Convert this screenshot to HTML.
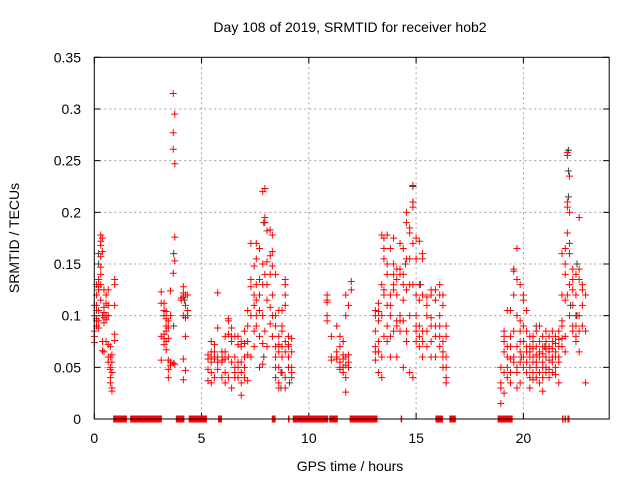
<!DOCTYPE html>
<html><head><meta charset="utf-8"><style>
html,body{margin:0;padding:0;background:#fff;}
svg{display:block;font-family:"Liberation Sans",sans-serif;}
</style></head><body>
<svg id="chart" width="640" height="480" viewBox="0 0 640 480">
<rect width="640" height="480" fill="#fff"/>
<text x="350" y="32" font-size="14" text-anchor="middle" fill="#000">Day 108 of 2019, SRMTID for receiver hob2</text>
<text transform="translate(19,238) rotate(-90)" font-size="14" text-anchor="middle" fill="#000">SRMTID / TECUs</text>
<text x="350" y="471" font-size="14" text-anchor="middle" fill="#000">GPS time / hours</text>
<g id="grid"></g>
<g id="ticks"></g>
<g id="marks"></g>
<rect x="94.3" y="57.3" width="514.9" height="361.7" fill="none" stroke="#000" stroke-width="1"/>
</svg>
<script>
const xTicks = [0, 5, 10, 15, 20];
const yTicks = [0, 0.05, 0.1, 0.15, 0.2, 0.25, 0.3, 0.35];
const yTickLabels = ["0", "0.05", "0.1", "0.15", "0.2", "0.25", "0.3", "0.35"];
const xDomain = [0, 24];
const yDomain = [0, 0.35];
// data gaps shown along y=0 (start hour, end hour)
const gaps = [[0.88,1.52],[1.67,3.15],[3.8,4.2],[4.4,5.25],[5.77,5.95],[8.27,8.45],[9.03,9.07],[9.25,10.9],[10.95,11.35],[11.9,13.2],[14.28,14.32],[15.9,16.25],[16.55,16.85],[18.8,19.5],[21.8,21.85],[21.92,21.97],[22.05,22.15]];
// columns of samples: [hour, [values]]
const pass1 = [[0.0,[0.085,0.08,0.074,0.11,0.1]],[0.1,[0.13,0.12,0.11,0.097,0.09]],[0.2,[0.135,0.128,0.125,0.105,0.095,0.088]],[0.3,[0.178,0.172,0.168,0.157,0.147,0.14,0.13,0.115]],[0.38,[0.175,0.162,0.1,0.075,0.066]],[0.45,[0.125,0.108,0.103,0.098,0.093,0.065]],[0.55,[0.12,0.112,0.1,0.096,0.075]],[0.65,[0.125,0.11,0.1,0.072,0.06,0.055]],[0.75,[0.07,0.06,0.05,0.048,0.04,0.035]],[0.82,[0.062,0.055,0.045,0.03,0.027]],[0.95,[0.135,0.13,0.11,0.082,0.076]]];
const pass2 = [[3.12,[0.123,0.112,0.08,0.057]],[3.25,[0.112,0.105,0.1,0.082,0.078,0.072]],[3.35,[0.104,0.097,0.09,0.085,0.075,0.067]],[3.45,[0.095,0.088,0.078,0.057,0.048,0.04]],[3.55,[0.124,0.1,0.055,0.052]],[3.68,[0.315,0.277,0.261,0.141,0.054]],[3.75,[0.295,0.247,0.176,0.153,0.053]],[4.05,[0.117,0.115]],[4.15,[0.128,0.122,0.118,0.1,0.058,0.038]],[4.25,[0.12,0.11,0.098,0.08,0.047]],[4.35,[0.12,0.105,0.1]]];
const pass3 = [[5.3,[0.062,0.058,0.048,0.037]],[5.45,[0.075,0.065,0.06,0.055,0.045,0.035]],[5.6,[0.072,0.065,0.06,0.058,0.04]],[5.75,[0.122,0.088,0.06,0.055,0.048]],[5.95,[0.065,0.06,0.057,0.055,0.04]],[6.1,[0.08,0.065,0.058,0.045,0.035]],[6.25,[0.097,0.095,0.082,0.06,0.04]],[6.4,[0.088,0.08,0.075,0.055,0.03]],[6.55,[0.08,0.06,0.05,0.045,0.04]],[6.7,[0.08,0.072,0.055,0.05,0.04]],[6.85,[0.075,0.07,0.055,0.045,0.035,0.023]],[7.0,[0.085,0.073,0.06,0.05,0.04]],[7.15,[0.105,0.09,0.075,0.062,0.037]],[7.3,[0.17,0.135,0.128,0.1,0.06]],[7.45,[0.148,0.12,0.11,0.085,0.07]],[7.55,[0.17,0.155,0.13,0.115,0.1,0.09]],[7.7,[0.165,0.135,0.12,0.105,0.08,0.05]],[7.85,[0.22,0.15,0.13,0.1,0.073,0.053]],[7.95,[0.223,0.195,0.19,0.14,0.085]],[8.05,[0.182,0.152,0.13,0.115,0.07]],[8.2,[0.183,0.158,0.14,0.108,0.092]],[8.3,[0.178,0.162,0.148,0.12,0.1,0.08]],[8.45,[0.14,0.1,0.09,0.07,0.06,0.05,0.04]],[8.6,[0.105,0.08,0.072,0.065,0.05,0.035,0.03]],[8.75,[0.105,0.09,0.085,0.07,0.06,0.045]],[8.9,[0.135,0.13,0.12,0.11,0.075,0.065,0.04,0.03]],[9.05,[0.08,0.072,0.07,0.06,0.05]],[9.2,[0.078,0.065,0.05,0.045,0.04]]];
const pass4 = [[10.85,[0.12,0.115,0.113,0.1,0.095]],[11.05,[0.08,0.06,0.057]],[11.3,[0.09,0.065,0.06,0.058]],[11.45,[0.08,0.07,0.055,0.05,0.048]],[11.6,[0.075,0.062,0.058,0.05,0.045]],[11.72,[0.12,0.1,0.06,0.052,0.04,0.026]],[11.85,[0.11,0.062,0.055,0.05]],[11.98,[0.133,0.125]]];
const pass5 = [[13.1,[0.105,0.1,0.085,0.07,0.065,0.057]],[13.25,[0.112,0.104,0.095,0.075,0.065,0.045]],[13.4,[0.178,0.13,0.1,0.06,0.04]],[13.5,[0.175,0.165,0.155,0.125,0.12,0.08]],[13.65,[0.178,0.15,0.14,0.11,0.09,0.075]],[13.8,[0.165,0.12,0.11,0.1,0.08,0.06]],[13.95,[0.175,0.15,0.14,0.13,0.125,0.085]],[14.1,[0.145,0.135,0.12,0.095,0.09,0.06]],[14.25,[0.17,0.145,0.14,0.1,0.095,0.085]],[14.4,[0.165,0.14,0.13,0.115,0.095,0.05]],[14.55,[0.2,0.19,0.155,0.125,0.085,0.075]],[14.7,[0.185,0.18,0.155,0.13,0.1,0.045]],[14.85,[0.226,0.21,0.205,0.17,0.13,0.04]],[15.0,[0.175,0.155,0.12,0.1,0.09,0.085,0.075]],[15.15,[0.172,0.13,0.115,0.09,0.08,0.07]],[15.3,[0.16,0.155,0.12,0.085,0.075,0.06]],[15.5,[0.118,0.11,0.1,0.085,0.07]],[15.7,[0.125,0.12,0.098,0.09,0.075,0.06]],[15.9,[0.125,0.115,0.09,0.08,0.06]],[16.1,[0.13,0.12,0.1,0.09,0.08,0.07]],[16.25,[0.12,0.11,0.075,0.065,0.06,0.05]],[16.4,[0.09,0.08,0.06,0.05,0.04,0.035]]];
const pass6 = [[18.95,[0.05,0.035,0.03,0.015]],[19.1,[0.085,0.08,0.075,0.065,0.045,0.025]],[19.25,[0.105,0.07,0.06,0.05,0.04]],[19.4,[0.105,0.08,0.07,0.058,0.045,0.035]],[19.55,[0.145,0.143,0.12,0.085,0.06,0.055]],[19.7,[0.165,0.135,0.1,0.07,0.05,0.045,0.03]],[19.85,[0.13,0.095,0.085,0.075,0.065,0.055,0.035]],[20.0,[0.12,0.115,0.09,0.075,0.06,0.05]],[20.15,[0.105,0.085,0.07,0.065,0.055,0.045]],[20.3,[0.08,0.07,0.065,0.06,0.05,0.04,0.03]],[20.45,[0.08,0.075,0.068,0.06,0.055,0.045,0.038]],[20.6,[0.085,0.07,0.062,0.055,0.05,0.04]],[20.75,[0.09,0.075,0.065,0.06,0.045,0.035]],[20.9,[0.08,0.07,0.063,0.055,0.05,0.04,0.027]],[21.05,[0.085,0.075,0.068,0.06,0.05,0.045]],[21.2,[0.08,0.07,0.065,0.057,0.048,0.04]],[21.35,[0.085,0.075,0.068,0.06,0.055,0.045]],[21.5,[0.08,0.073,0.065,0.06,0.05,0.043]],[21.65,[0.085,0.077,0.07,0.06,0.055,0.035]],[21.8,[0.16,0.12,0.095,0.09,0.078,0.07]],[21.95,[0.165,0.15,0.14,0.115,0.08,0.065]],[22.05,[0.258,0.255,0.21,0.205,0.18,0.12]],[22.15,[0.235,0.2,0.17,0.16,0.13,0.1]],[22.3,[0.145,0.135,0.125,0.11,0.09,0.085]],[22.45,[0.14,0.12,0.1,0.09,0.08,0.075]],[22.6,[0.195,0.145,0.135,0.1,0.085,0.065]],[22.75,[0.13,0.125,0.11,0.09]],[22.9,[0.12,0.085,0.035]]];
// darker (secondary) samples plotted beneath
const darkPts = [[0.1,[0.095,0.105]],[0.2,[0.15,0.16]],[3.7,[0.16,0.09]],[4.2,[0.115]],[7.9,[0.19,0.06]],[8.7,[0.045,0.03]],[9.1,[0.035]],[14.85,[0.225,0.21]],[14.5,[0.15]],[15.2,[0.13]],[19.9,[0.06]],[20.6,[0.09]],[21.0,[0.07]],[22.1,[0.26,0.24,0.215]],[22.5,[0.15,0.1]],[22.2,[0.11]]];

const L = 94.3, R = 609.2, T = 57.3, B = 419;
const NS = 'http://www.w3.org/2000/svg';
function sx(h){ return L + (h - xDomain[0]) / (xDomain[1] - xDomain[0]) * (R - L); }
function sy(v){ return B - (v - yDomain[0]) / (yDomain[1] - yDomain[0]) * (B - T); }
function mk(tag, attrs, parent){ const e = document.createElementNS(NS, tag); for (const k in attrs) e.setAttribute(k, attrs[k]); parent.appendChild(e); return e; }
const grid = document.getElementById('grid');
const ticks = document.getElementById('ticks');
const marks = document.getElementById('marks');
const svg = document.getElementById('chart');

xTicks.forEach(function(t){
  const x = sx(t);
  if (t > xDomain[0]) { const g = mk('line', {x1:x, x2:x, y1:T, y2:B, stroke:'#a0a0a0', 'stroke-dasharray':'2,3', 'stroke-width':1}, grid);
  
   }
  const a = mk('line', {x1:x, x2:x, y1:B, y2:B-6, stroke:'#000'}, ticks);
  
  
  const b = mk('line', {x1:x, x2:x, y1:T, y2:T+6, stroke:'#000'}, ticks);
  
  
  const lb = mk('text', {x:x, y:443, 'font-size':14, 'text-anchor':'middle', fill:'#000'}, ticks);
  lb.textContent = String(t);
  
  
});
yTicks.forEach(function(t, i){
  const y = sy(t);
  if (t > yDomain[0] && t < yDomain[1]) { const g = mk('line', {x1:L, x2:R, y1:y, y2:y, stroke:'#a0a0a0', 'stroke-dasharray':'2,3', 'stroke-width':1}, grid);
  
   }
  const a = mk('line', {x1:L, x2:L+6, y1:y, y2:y, stroke:'#000'}, ticks);
  
  
  const b = mk('line', {x1:R-6, x2:R, y1:y, y2:y, stroke:'#000'}, ticks);
  
  
  const lb = mk('text', {x:81, y:y+5, 'font-size':14, 'text-anchor':'end', fill:'#000'}, ticks);
  lb.textContent = yTickLabels[i];
  
  
});

function plus(h, v, color){
  const x = sx(h), y = sy(v);
  const p = mk('path', {d:'M'+(x-3.5)+' '+y+'H'+(x+3.5)+'M'+x+' '+(y-3.5)+'V'+(y+3.5), stroke:color, 'stroke-width':1, fill:'none'}, marks);
  
  
}
darkPts.forEach(function(c){ c[1].forEach(function(v){ plus(c[0], v, '#404040'); }); });
[pass1, pass2, pass3, pass4, pass5, pass6].forEach(function(pass){
  pass.forEach(function(c){ c[1].forEach(function(v){ plus(c[0], v, '#ff0000'); }); });
});
gaps.forEach(function(g){
  const x1 = sx(g[0]), x2 = sx(g[1]);
  const r = mk('rect', {x:x1, y:B-3.5, width:Math.max(1.5, x2-x1), height:7, fill:'#ff0000'}, marks);
  
  
});
</script>
</body></html>
